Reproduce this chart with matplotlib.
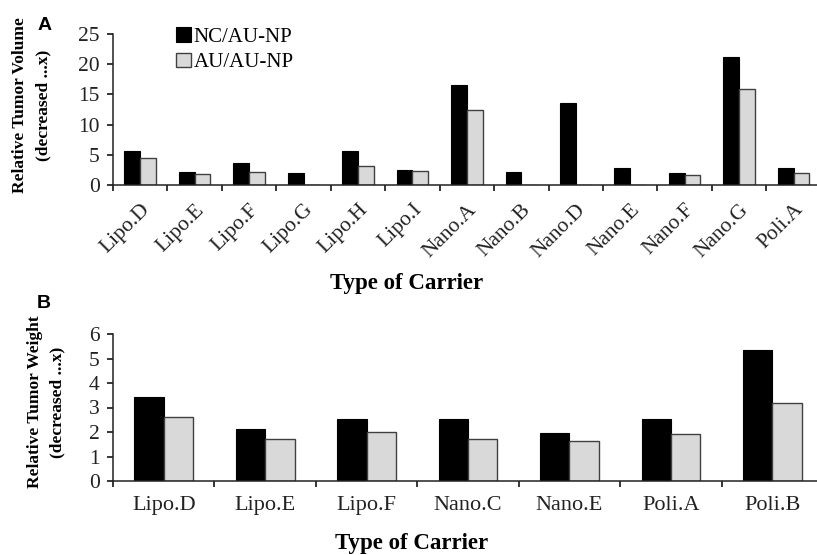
import numpy as np
import matplotlib
matplotlib.use("Agg")
import matplotlib.pyplot as plt

plt.rcParams['font.family'] = ['Liberation Serif', 'DejaVu Serif']

# panel A: tumor volume
cats_a = ['Lipo.D', 'Lipo.E', 'Lipo.F', 'Lipo.G', 'Lipo.H', 'Lipo.I', 'Nano.A',
          'Nano.B', 'Nano.D', 'Nano.E', 'Nano.F', 'Nano.G', 'Poli.A']
nc_a = [5.6, 2.15, 3.6, 2.0, 5.6, 2.5, 16.5, 2.15, 13.5, 2.75, 2.05, 21.2, 2.75]
au_a = [4.4, 1.8, 2.15, 0, 3.2, 2.4, 12.4, 0, 0, 0, 1.65, 15.9, 2.0]

# panel B: tumor weight
cats_b = ['Lipo.D', 'Lipo.E', 'Lipo.F', 'Nano.C', 'Nano.E', 'Poli.A', 'Poli.B']
nc_b = [3.42, 2.13, 2.54, 2.54, 1.94, 2.54, 5.33]
au_b = [2.62, 1.72, 2.02, 1.72, 1.63, 1.91, 3.2]

W, H = 817, 555
fig = plt.figure(figsize=(W / 100, H / 100), dpi=100)

def px_axes(left, top, right, bottom):
    return fig.add_axes([left / W, 1 - bottom / H, (right - left) / W, (bottom - top) / H])

ax1 = px_axes(113, 34, 817, 185)
ax2 = px_axes(113, 334, 817, 481)

bw = 0.29
gray = '#d9d9d9'

def draw(ax, cats, nc, au, ymax, right):
    x = np.arange(len(cats))
    ax.bar(x - bw / 2, nc, bw, color='black', edgecolor='black', linewidth=0.8,
           label='NC/AU-NP')
    ax.bar(x + bw / 2, au, bw, color=gray, edgecolor='#404040', linewidth=1.0,
           label='AU/AU-NP')
    ax.set_xlim(-0.5, right)
    ax.set_ylim(0, ymax)
    for s in ['top', 'right']:
        ax.spines[s].set_visible(False)
    for s in ['left', 'bottom']:
        ax.spines[s].set_linewidth(1.1)
        ax.spines[s].set_color('#222222')
    ax.set_xticks(np.arange(len(cats)) - 0.5, minor=False)
    ax.set_xticklabels([])
    ax.set_xticks(x, minor=True)
    ax.tick_params(axis='x', which='major', direction='out', length=4.5, width=1.1)
    ax.tick_params(axis='x', which='minor', length=0)
    ax.tick_params(axis='y', direction='out', length=4.5, width=1.1, labelsize=15.5,
                   pad=5, labelcolor='#222222')
    return x

x1 = draw(ax1, cats_a, nc_a, au_a, 25, 12.43)
ax1.set_yticks([0, 5, 10, 15, 20, 25])
ax1.set_xticklabels(cats_a, minor=True, rotation=45, ha='right', va='top',
                    rotation_mode='anchor', fontsize=15.5, color='#222222')
ax1.tick_params(axis='x', which='minor', pad=11)

x2 = draw(ax2, cats_b, nc_b, au_b, 6, 6.44)
ax2.set_yticks(range(7))
ax2.set_xticklabels(cats_b, minor=True, fontsize=16, color='#222222')
ax2.tick_params(axis='x', which='minor', pad=11)

ax1.legend(loc='upper left', bbox_to_anchor=(176 / W, 1 - 27 / H),
           bbox_transform=fig.transFigure, frameon=False, fontsize=15,
           handlelength=0.7, handleheight=0.7, handletextpad=0.15,
           labelspacing=0.3, borderpad=0, borderaxespad=0)

# axis titles
fig.text(407 / W, 1 - 283 / H, 'Type of Carrier', ha='center', va='center',
         fontsize=16.5, fontweight='bold')
fig.text(412 / W, 1 - 544 / H, 'Type of Carrier', ha='center', va='center',
         fontsize=16.5, fontweight='bold')

ylab = dict(rotation=90, ha='center', va='center', fontsize=12.5, fontweight='bold')
fig.text(20 / W, 1 - 105 / H, 'Relative Tumor Volume', **ylab)
fig.text(43 / W, 1 - 105 / H, '(decreased ...x)', **ylab)
fig.text(35 / W, 1 - 402 / H, 'Relative Tumor Weight', **ylab)
fig.text(57 / W, 1 - 402 / H, '(decreased ...x)', **ylab)

# panel letters
fig.text(45 / W, 1 - 26 / H, 'A', ha='center', va='center', fontsize=14,
         fontweight='bold', family='Liberation Sans')
fig.text(44 / W, 1 - 303 / H, 'B', ha='center', va='center', fontsize=14,
         fontweight='bold', family='Liberation Sans')

fig.savefig('out.png', dpi=100)
